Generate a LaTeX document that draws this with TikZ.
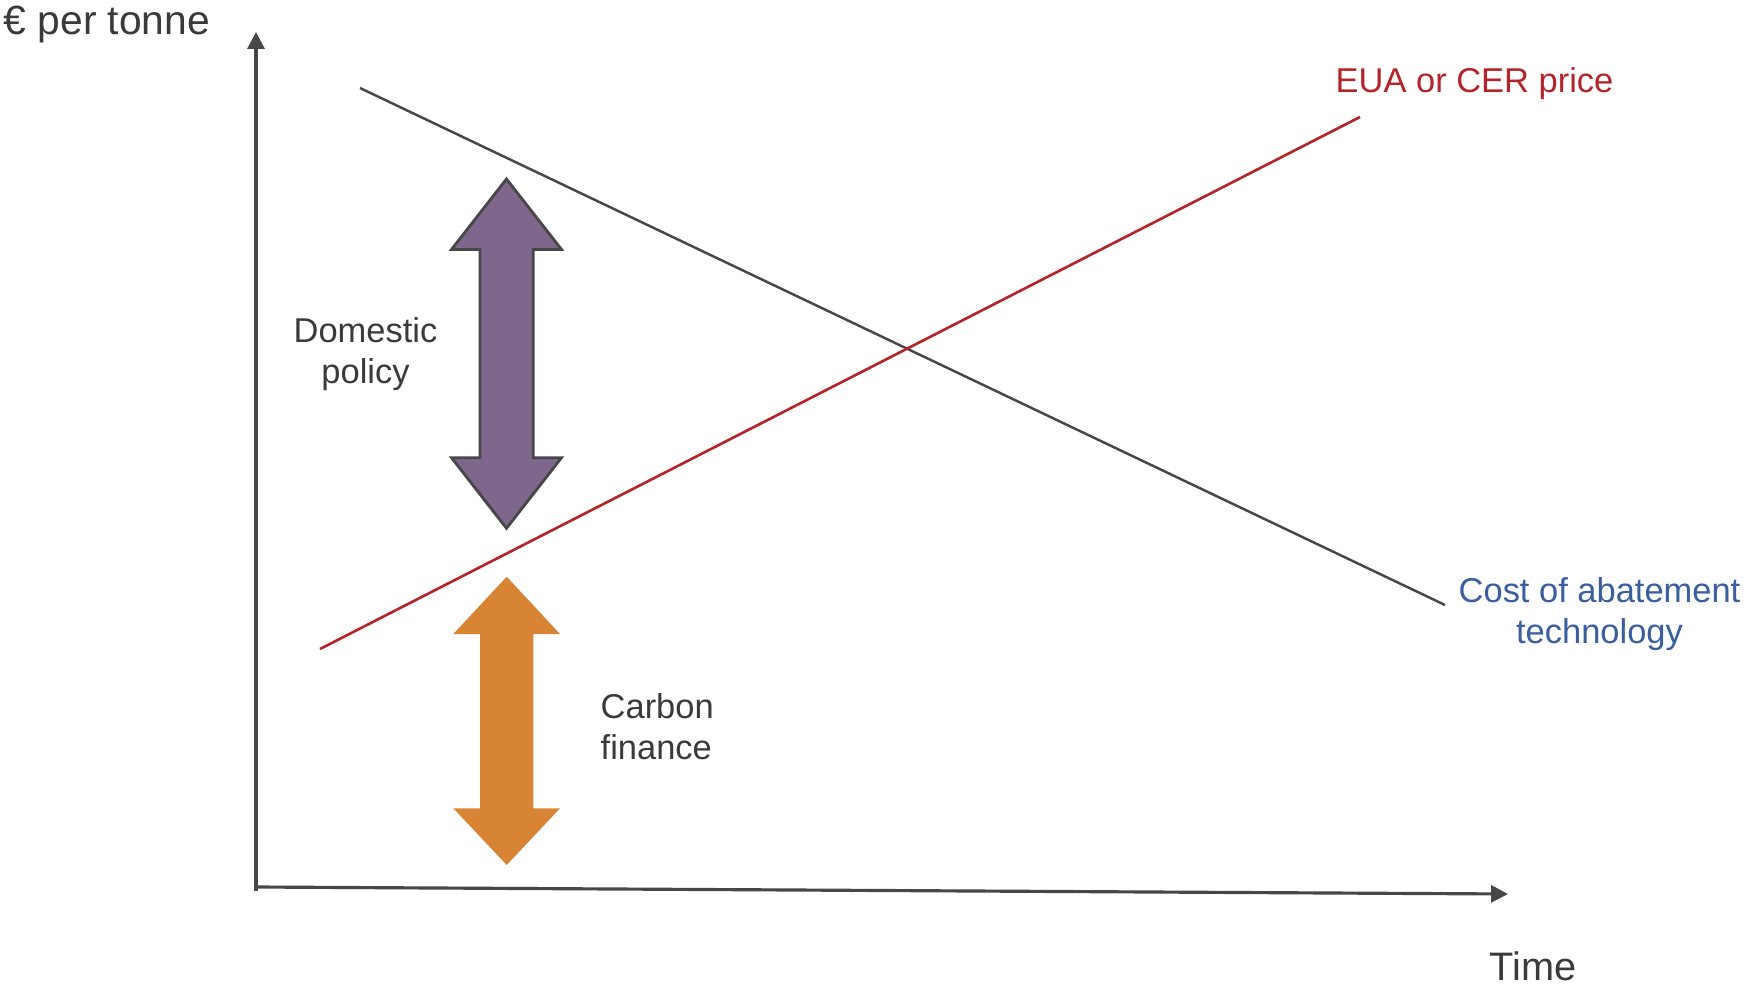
\documentclass[tikz,border=0pt]{standalone}
\usepackage{fontspec}
\setmainfont{Liberation Sans}
\usetikzlibrary{arrows.meta}
\definecolor{axisgray}{HTML}{474747}
\definecolor{txtgray}{HTML}{3A3A3A}
\definecolor{eured}{HTML}{B3242B}
\definecolor{costblue}{HTML}{3A5E9E}
\definecolor{polpurple}{HTML}{7F668D}
\definecolor{finorange}{HTML}{D78534}
\begin{document}
\begin{tikzpicture}[x=0.01cm,y=-0.01cm,
  axisline/.style={draw=axisgray,line width=0.9pt,-{Triangle[length=4.8pt,width=4.8pt]}},
  costline/.style={draw=axisgray,line width=0.7pt},
  priceline/.style={draw=eured,line width=0.75pt},
  lbl/.style={inner sep=0pt,font=\fontsize{9.8}{11.7}\selectfont,text=txtgray},
  purplearrow/.style={fill=polpurple,draw=axisgray,line width=0.8pt,line join=miter},
  orangearrow/.style={fill=finorange,draw=none}]
\useasboundingbox (0,0) rectangle (1748,985);
% axes
\coordinate (Obot) at (256,891);
\coordinate (Ytip) at (256,32);
\coordinate (Oleft) at (256,887);
\coordinate (Xtip) at (1508,894);
\draw[axisline] (Obot) -- (Ytip);
\draw[axisline] (Oleft) -- (Xtip);
% lines
\coordinate (c1) at (360,88);
\coordinate (c2) at (1445,605);
\draw[costline] (c1) -- (c2);
\coordinate (p1) at (320,649);
\coordinate (p2) at (1360,117);
\draw[priceline] (p1) -- (p2);
% double arrows
\draw[purplearrow] (506.5,179) -- (561.5,249.5) -- (533.3,249.5) -- (533.3,457.7) -- (561.5,457.7) -- (506.5,528.3) -- (451.5,457.7) -- (480,457.7) -- (480,249.5) -- (451.5,249.5) -- cycle;
\fill[orangearrow] (506.7,576.7) -- (560,634) -- (533.3,634) -- (533.3,808.3) -- (560,808.3) -- (506.7,865) -- (453.3,808.3) -- (480,808.3) -- (480,634) -- (453.3,634) -- cycle;
% labels
\node[lbl,anchor=base west,font=\fontsize{11.6}{13.9}\selectfont] (ylab) at (3,35) {€ per tonne};
\node[lbl,anchor=base west,font=\fontsize{11.3}{13.6}\selectfont] (xlab) at (1489,980.7) {Time};
\node[lbl,anchor=base west,text=eured] (eua) at (1335,92.3) {EUA or CER price};
\node[lbl,anchor=base,align=center,text=costblue] (cost) at (1599.5,643.7) {Cost of abatement\\technology};
\node[lbl,anchor=base,align=center] (dom) at (365.5,383.7) {Domestic\\policy};
\node[lbl,anchor=base west,align=left] (fin) at (600,759.3) {Carbon\\finance};
\end{tikzpicture}
\end{document}
